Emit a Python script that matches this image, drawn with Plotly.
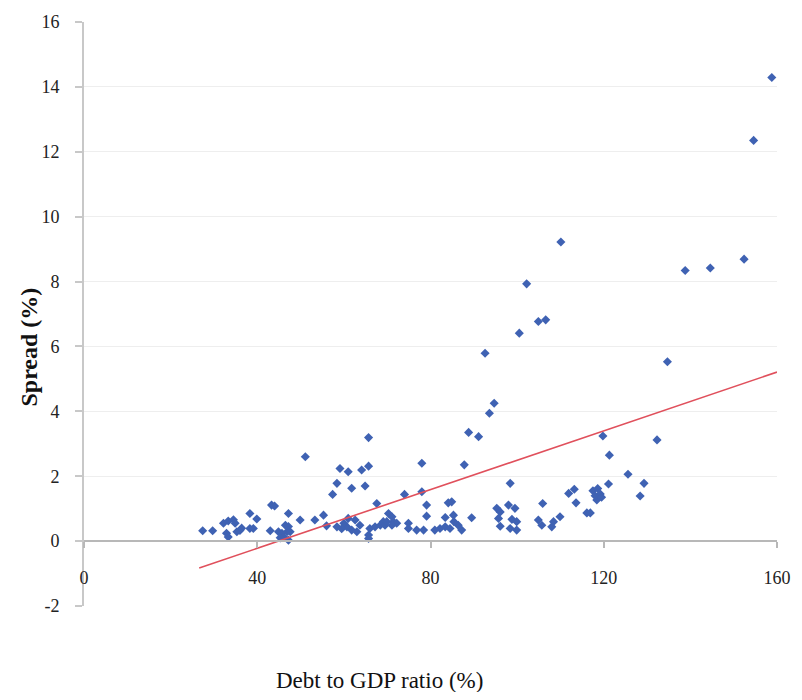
import plotly.graph_objects as go

# Debt to GDP ratio (%)
debt = [27.4, 29.7, 32.2, 33.3, 34.5, 34.9, 32.9, 33.3, 35.3, 36.0, 36.4,
        38.3, 39.9, 38.3, 39.1, 43.3, 44.0, 43.0, 44.9, 45.7, 46.1, 46.9, 47.2,
        47.6, 46.5, 47.2, 45.3, 47.2, 49.9, 51.1, 53.3, 55.3, 56.0,
        57.4, 58.4, 59.1, 61.0, 64.1, 65.7, 65.7, 61.8, 64.9,
        58.4, 61.0, 62.6, 60.7, 61.8, 63.0, 63.7, 60.0, 59.5,
        65.7, 65.7, 66.0, 67.2, 68.4, 69.1, 67.6,
        70.3, 71.1, 71.4, 72.2, 71.1, 69.5, 69.9,
        74.0, 74.9, 74.9, 76.8, 78.4, 78.0, 78.0, 79.1, 79.1,
        81.0, 82.2, 83.4, 84.5, 84.1, 83.4, 85.3, 84.9, 86.4, 87.2, 85.4,
        87.8, 88.8, 91.1, 89.5, 92.6, 94.7, 93.6,
        95.3, 96.1, 95.7, 96.1, 98.0, 99.5, 98.8, 99.9, 98.4, 99.9, 98.4,
        100.5, 102.2, 104.9, 106.6, 110.1,
        105.9, 104.9, 105.7, 108.0, 108.4, 109.9,
        111.9, 113.2, 113.6, 116.1, 116.9, 118.4, 117.5, 118.6, 119.2, 118.0, 119.5,
        119.8, 121.1, 121.3, 125.6, 128.4, 129.3, 132.3, 134.7,
        138.8, 144.6, 152.4, 154.6, 158.8]

# Spread (%)
spread = [0.32, 0.32, 0.55, 0.62, 0.66, 0.55, 0.24, 0.13, 0.29, 0.33, 0.40,
          0.85, 0.68, 0.39, 0.39, 1.11, 1.08, 0.32, 0.29, 0.24, 0.13, 0.29, 0.45,
          0.29, 0.49, 0.03, 0.10, 0.85, 0.65, 2.60, 0.65, 0.80, 0.47,
          1.44, 1.78, 2.24, 2.14, 2.19, 2.31, 3.19, 1.63, 1.70,
          0.44, 0.70, 0.65, 0.44, 0.34, 0.29, 0.49, 0.55, 0.38,
          0.19, 0.08, 0.39, 0.44, 0.49, 0.60, 1.16,
          0.85, 0.75, 0.60, 0.55, 0.49, 0.49, 0.60,
          1.44, 0.55, 0.39, 0.34, 0.34, 2.40, 1.52, 1.11, 0.77,
          0.34, 0.39, 0.44, 0.39, 1.18, 0.73, 0.80, 1.21, 0.49, 0.34, 0.60,
          2.35, 3.35, 3.22, 0.72, 5.79, 4.25, 3.94,
          1.01, 0.90, 0.70, 0.46, 1.11, 1.01, 0.67, 0.60, 0.39, 0.34, 1.78,
          6.41, 7.93, 6.77, 6.82, 9.22,
          1.16, 0.65, 0.49, 0.44, 0.60, 0.75,
          1.47, 1.60, 1.18, 0.87, 0.87, 1.27, 1.55, 1.62, 1.45, 1.40, 1.35,
          3.24, 1.76, 2.65, 2.06, 1.39, 1.78, 3.12, 5.53,
          8.34, 8.42, 8.69, 12.35, 14.29]

# Linear trend line end points
trend_x = [26.6, 160.0]
trend_y = [-0.83, 5.21]

x_ticks = [0, 40, 80, 120, 160]
y_ticks = [-2, 0, 2, 4, 6, 8, 10, 12, 14, 16]

tick_font = dict(family="Liberation Serif, DejaVu Serif, serif", size=18, color="#222222")

fig = go.Figure()
fig.add_trace(go.Scatter(
    x=debt, y=spread, mode="markers",
    marker=dict(symbol="diamond", size=7, color="#3F62B3"),
    showlegend=False, hoverinfo="x+y"))
fig.add_trace(go.Scatter(
    x=trend_x, y=trend_y, mode="lines",
    line=dict(color="#E0505C", width=1.6),
    showlegend=False, hoverinfo="skip"))

fig.update_layout(
    width=786, height=684,
    margin=dict(l=76, r=17, t=14, b=86),
    paper_bgcolor="white", plot_bgcolor="white",
    xaxis=dict(
        range=[0, 160], tickvals=x_ticks, ticktext=[str(v) for v in x_ticks],
        anchor="free", position=2 / 18, automargin=False,
        showgrid=False, zeroline=False,
        showline=True, linecolor="#B8B8B8", linewidth=2,
        ticks="outside", ticklen=6, tickcolor="#B8B8B8", tickwidth=1.5,
        tickfont=tick_font, ticklabelstandoff=14,
    ),
    yaxis=dict(
        range=[-2, 16], tickvals=y_ticks, ticktext=[str(v) for v in y_ticks],
        automargin=False,
        showgrid=True, gridcolor="#EEEEEE", gridwidth=1, zeroline=False,
        showline=True, linecolor="#C8C8C8", linewidth=2,
        ticks="outside", ticklen=7, tickcolor="#C8C8C8", tickwidth=1.5,
        tickfont=tick_font, ticklabelstandoff=12,
    ),
    annotations=[
        dict(text="Debt to GDP ratio (%)", xref="paper", yref="paper",
             x=0.427, y=-0.128, xanchor="center", yanchor="middle",
             showarrow=False,
             font=dict(family="Liberation Serif, DejaVu Serif, serif", size=23, color="#111111")),
        dict(text="<b>Spread (%)</b>", xref="paper", yref="paper",
             x=-0.08, y=0.4435, xanchor="center", yanchor="middle",
             textangle=-90, showarrow=False,
             font=dict(family="Liberation Serif, DejaVu Serif, serif", size=24, color="#111111")),
    ],
)

fig.write_html("out.html")
